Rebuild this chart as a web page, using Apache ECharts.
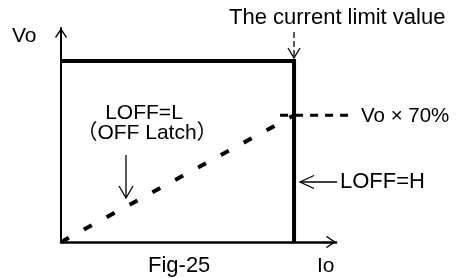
<!DOCTYPE html>
<html>
<head>
<meta charset="utf-8">
<script src="https://cdn.jsdelivr.net/npm/echarts@6/dist/echarts.min.js"></script>
<style>
html, body { margin: 0; padding: 0; background: #fff; }
#fig { width: 457px; height: 278px; }
</style>
</head>
<body>
<div id="fig"></div>
<script>
// data (Io / Vo, normalised: current limit = 1, Vo = 1)
var limitLine = [[0, 1], [1, 1], [1, 0]];          // LOFF=H
var latchLine = [[0, 0], [1, 0.7]];                 // LOFF=L (OFF Latch)
var levelLine = [[0.94, 0.7], [1.236, 0.7]];        // Vo x 70%
var axisMax = [1.18, 1.182];                        // Io, Vo (arrow ends)

(function(){
	'use strict';

	var FONT = '"Liberation Sans", Arial, "Noto Sans CJK JP", sans-serif';
	// open "V" arrow head, pointing up
	var VHEAD = 'path://M6,0 L12,9 L11,10 L6,2.4 L1,10 L0,9 Z';

	var myChart = echarts.init(document.getElementById('fig'), null, {renderer: 'canvas'});

	var shownAxis = function(max, width){
		return {
			type: 'value',
			min: 0,
			max: max,
			axisLine: {
				show: true,
				symbol: ['none', VHEAD],
				symbolSize: [12, 10],
				symbolOffset: [0, -5],
				lineStyle: {color: '#000', width: width}
			},
			axisTick: {show: false},
			axisLabel: {show: false},
			splitLine: {show: false}
		};
	};

	var txt = function(x, y, s, size, align){
		return {
			type: 'text',
			x: x, y: y,
			style: {
				text: s,
				font: size + 'px ' + FONT,
				fill: '#000',
				textAlign: align || 'left',
				textVerticalAlign: 'middle'
			}
		};
	};

	var stroke = function(points, dash){
		return {
			type: 'polyline',
			shape: {points: points},
			style: {stroke: '#000', lineWidth: 1.3, fill: null, lineDash: dash || null}
		};
	};

	var lineSeries = function(name, data, width, dash){
		return {
			name: name,
			type: 'line',
			data: data,
			showSymbol: false,
			clip: false,
			lineStyle: {color: '#000', width: width, type: dash || 'solid', join: 'miter', cap: 'butt'}
		};
	};

	// the 70% line runs past the end of the Io axis, custom series is not clipped
	var levelSeries = {
		name: 'Vo70',
		type: 'custom',
		data: levelLine,
		clip: false,
		renderItem: function(params, api){
			if (params.dataIndex !== 0) return;
			var pts = [0, 1].map(function(i){
				return api.coord([api.value(0, i), api.value(1, i)]);
			});
			return {
				type: 'polyline',
				shape: {points: pts},
				style: {stroke: '#000', lineWidth: 3, lineDash: [8, 7], fill: null}
			};
		}
	};

	var option = {
		animation: false,
		grid: {left: 61, top: 28, width: 275, height: 214},
		xAxis: shownAxis(axisMax[0], 2.5),
		yAxis: shownAxis(axisMax[1], 2),
		series: [
			lineSeries('LOFF=H', limitLine, 4),
			lineSeries('LOFF=L', latchLine, 4, [9, 17]),
			levelSeries
		],
		graphic: [
			txt(229, 18, 'The current limit value', 22),
			txt(12, 36, 'Vo', 21),
			txt(144, 113, 'LOFF=L', 21, 'center'),
			txt(147, 133, '（OFF Latch）', 21, 'center'),
			txt(361, 116, 'Vo × 70%', 20.5),
			txt(340, 182, 'LOFF=H', 22),
			txt(148, 266, 'Fig-25', 22),
			txt(317, 266, 'Io', 21),
			// current limit marker (dashed, pointing down)
			stroke([[294, 32], [294, 57]], [6, 3]),
			stroke([[288, 48], [294, 58], [300, 48]]),
			// LOFF=L arrow
			stroke([[126, 155], [126, 198]]),
			stroke([[119, 186], [126, 198], [133, 186]]),
			// LOFF=H arrow
			stroke([[300, 182], [337, 182]]),
			stroke([[314, 175.5], [300, 182], [314, 188.5]])
		]
	};

	myChart.setOption(option);
})();
</script>
</body>
</html>
